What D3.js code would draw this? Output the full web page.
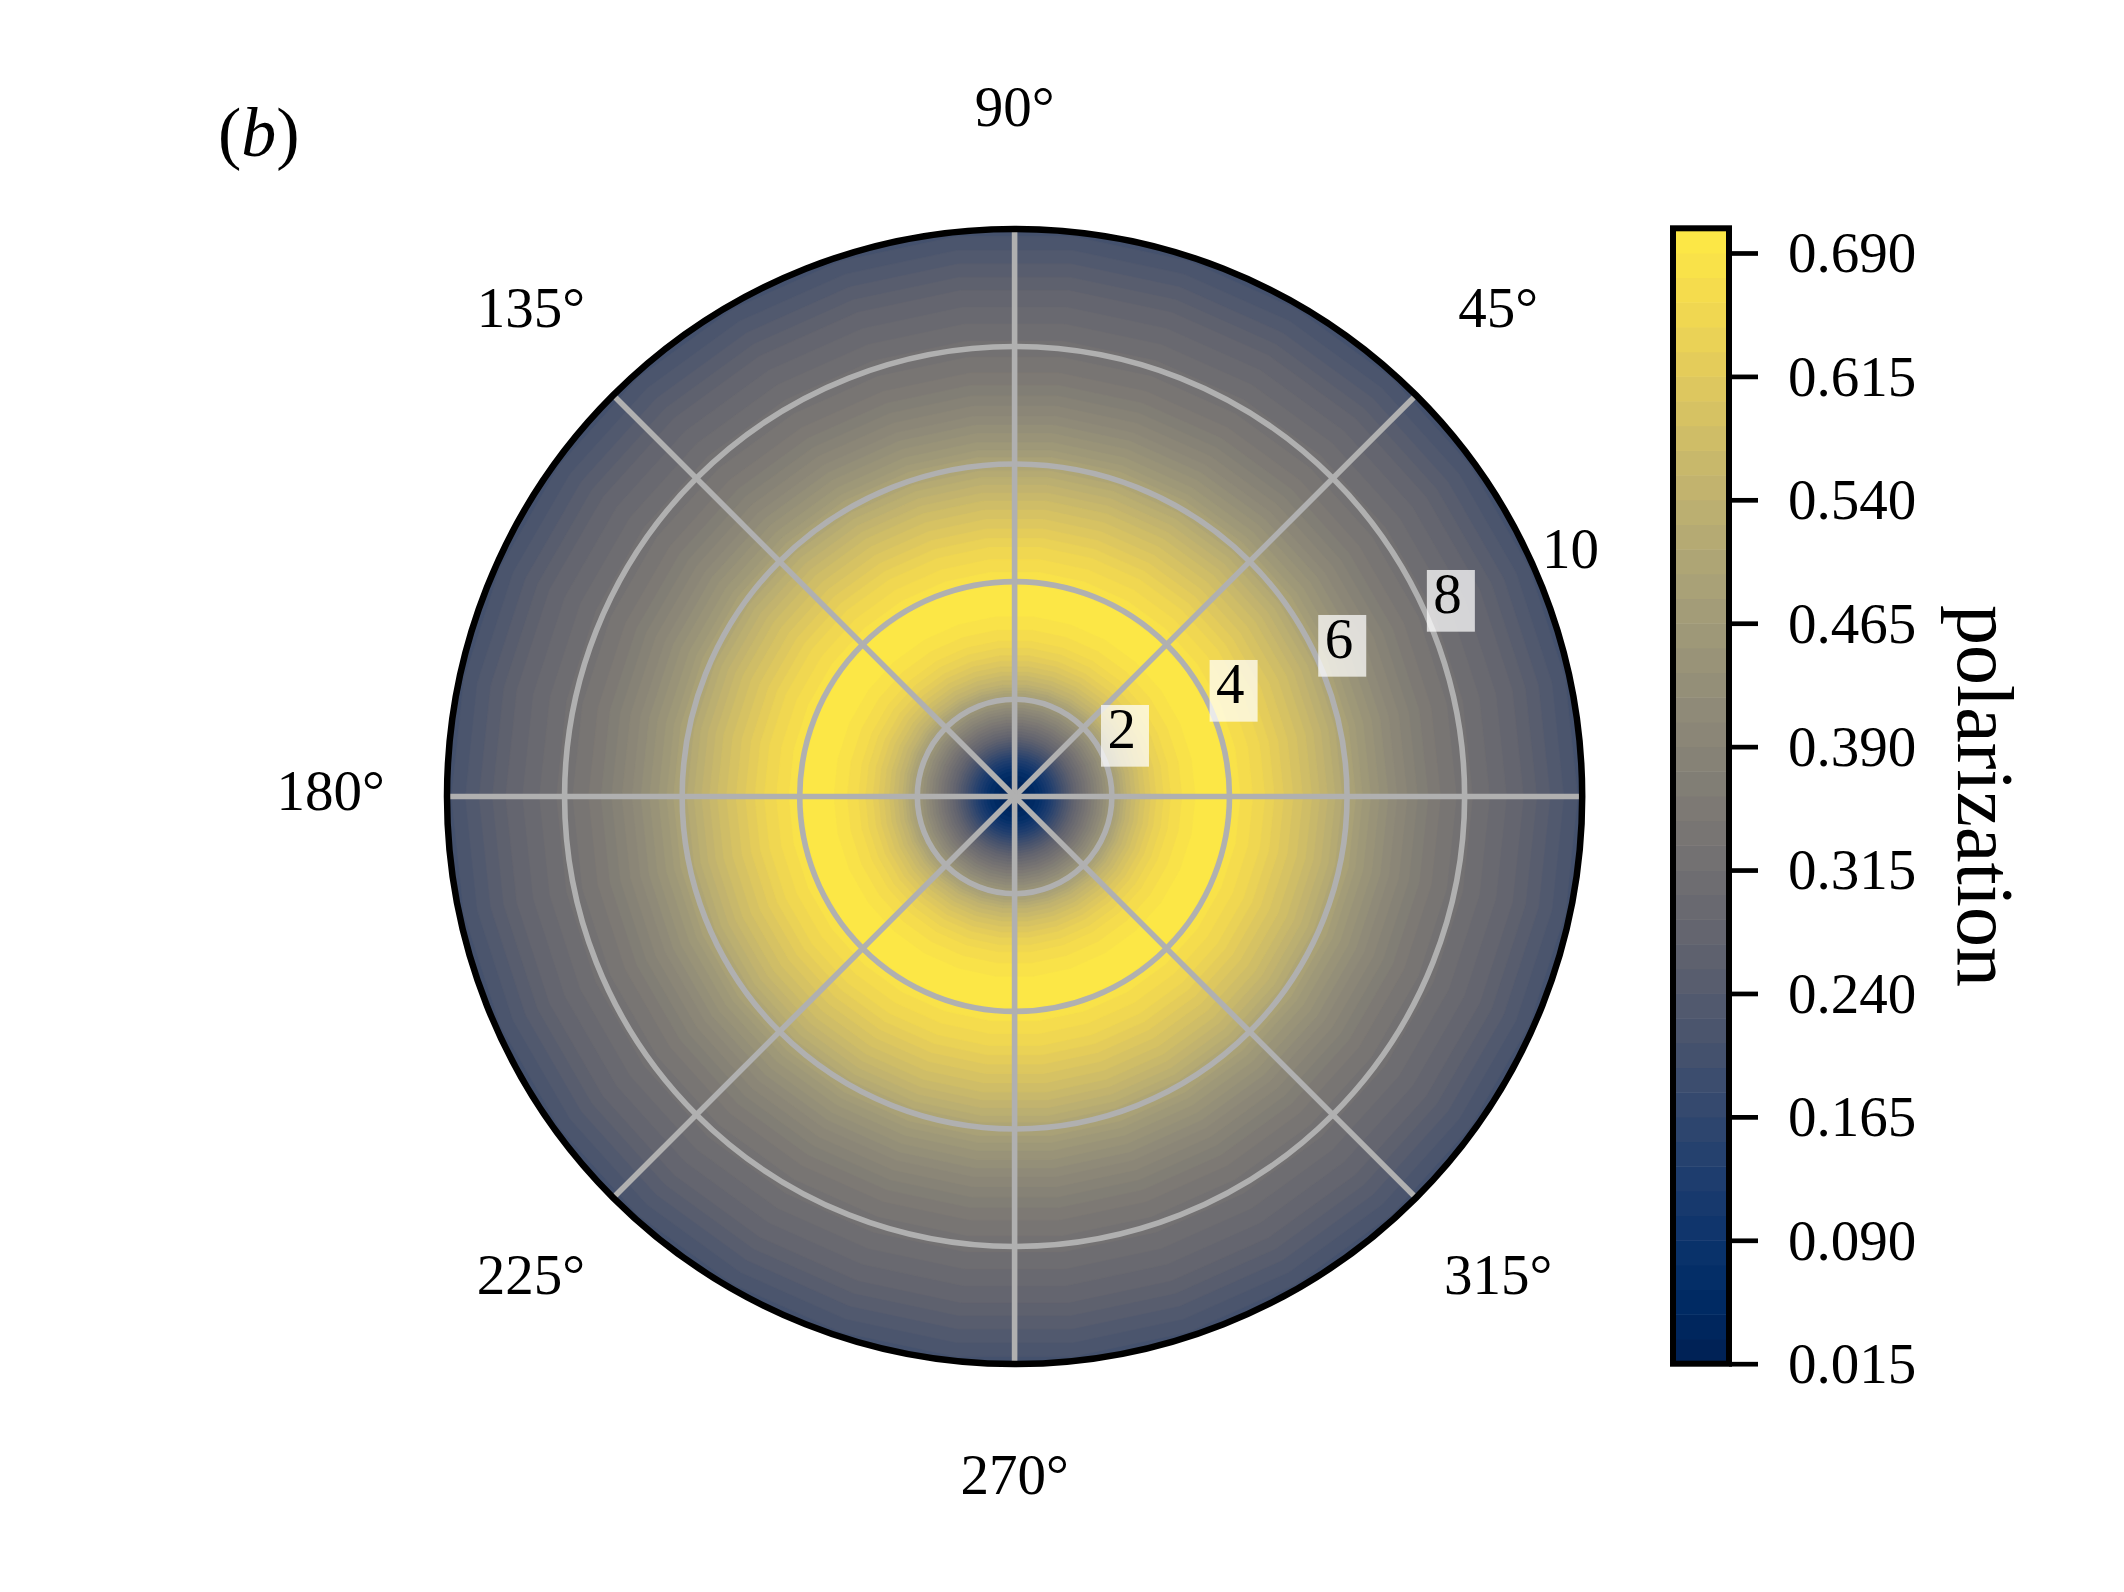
<!DOCTYPE html>
<html><head><meta charset="utf-8">
<script src="https://cdn.jsdelivr.net/npm/d3@7"></script>
<style>
body{margin:0;background:#fff}
svg{display:block}
text{font-family:"Liberation Serif","Times New Roman",serif;fill:#000}
</style>
</head><body>
<svg id="chart" width="2124" height="1592"></svg>
<script>
// ---- data ----
const radiusSamples = [0.345, 0.55, 0.75, 0.95, 1.15, 1.35, 1.55, 1.75, 2.0, 2.25, 2.5, 2.75, 3.0, 3.25, 3.5, 3.7, 3.95, 4.3, 4.6, 4.9, 5.4, 5.8, 6.3, 6.9, 7.5, 8.0, 8.5, 9.0, 9.5, 10.0];
const polarizationSamples = [0.016, 0.035, 0.07, 0.13, 0.20, 0.27, 0.33, 0.39, 0.465, 0.54, 0.59, 0.63, 0.66, 0.68, 0.695, 0.70, 0.69, 0.667, 0.645, 0.617, 0.57, 0.525, 0.46, 0.40, 0.35, 0.322, 0.296, 0.27, 0.237, 0.205];
const radialTicks = [2, 4, 6, 8, 10];
const angleTicks = [0, 45, 90, 135, 180, 225, 270, 315];
const angleLabels = ["", "45°", "90°", "135°", "180°", "225°", "270°", "315°"];
const levelMin = 0.015, levelStep = 0.015, levelCount = 46;
const colorbarTicks = [0.015, 0.090, 0.165, 0.240, 0.315, 0.390, 0.465, 0.540, 0.615, 0.690];
const colorbarTickLabels = ["0.015", "0.090", "0.165", "0.240", "0.315", "0.390", "0.465", "0.540", "0.615", "0.690"];
const colorbarTitle = "polarization";
const panelLabel = ["(", "b", ")"];

// ---- layout ----
const svg = d3.select("#chart");
const cx = 1014.6, cy = 796.5, R = 567.6;
const rMin = radiusSamples[0], rMax = 10;
const levels = d3.range(levelCount + 1).map(i => levelMin + i * levelStep);
const vMin = levels[0], vMax = levels[levels.length - 1];
const rScale = d3.scaleLinear().domain([rMin, rMax]).range([0, R]);
const profile = d3.scaleLinear().domain(radiusSamples).range(polarizationSamples).clamp(true);
const colorOf = band => d3.interpolateCividis(((levels[band] + levels[band + 1]) / 2 - vMin) / (vMax - vMin));
const bandOf = v => Math.max(0, Math.min(levelCount - 1, Math.floor((v - vMin) / levelStep)));

// ---- filled contour bands (radially symmetric) ----
const steps = 3000;
const segs = [];
let prev = null;
for (let i = 0; i <= steps; i++) {
  const r = rMin + (rMax - rMin) * i / steps;
  const b = bandOf(profile(r));
  if (!prev || prev.band !== b) {
    if (prev) prev.r1 = r;
    prev = {band: b, r0: r, r1: rMax};
    segs.push(prev);
  }
}
const g = svg.append("g").attr("transform", `translate(${cx},${cy})`);
const nTheta = 30;
const thetaNodes = d3.range(nTheta).map(k => k * 2 * Math.PI / nTheta);
const poly = d3.lineRadial().angle(t => Math.PI / 2 - t).curve(d3.curveLinearClosed);
g.append("circle").attr("r", R).attr("fill", colorOf(segs[segs.length - 1].band));
for (let i = segs.length - 2; i >= 0; i--) {
  const rr = rScale(segs[i].r1);
  g.append("path")
    .attr("d", poly.radius(rr)(thetaNodes))
    .attr("fill", colorOf(segs[i].band))
    .attr("stroke", colorOf(segs[i].band)).attr("stroke-width", 0.6);
}

// ---- grid ----
const gridColor = "#b0b0b0", gridW = 5.6;
g.selectAll("circle.ring").data(radialTicks.filter(t => t < rMax)).join("circle")
  .attr("class", "ring").attr("r", d => rScale(d))
  .attr("fill", "none").attr("stroke", gridColor).attr("stroke-width", gridW);
g.selectAll("line.spoke").data(angleTicks).join("line")
  .attr("class", "spoke")
  .attr("x1", 0).attr("y1", 0)
  .attr("x2", d => R * Math.cos(d * Math.PI / 180))
  .attr("y2", d => -R * Math.sin(d * Math.PI / 180))
  .attr("stroke", gridColor).attr("stroke-width", gridW);

// ---- radial tick labels ----
const labAng = 22.5 * Math.PI / 180;
const tickFont = 57;
radialTicks.forEach(t => {
  const ax = rScale(t) * Math.cos(labAng), ay = -rScale(t) * Math.sin(labAng);
  const lg = g.append("g");
  const rect = lg.append("rect").attr("fill", "#fff").attr("fill-opacity", t < rMax ? 0.72 : 0);
  const tx = lg.append("text").attr("x", ax + 3).attr("y", ay - 11)
    .attr("font-size", tickFont).text(String(t));
  const w = tx.node().getComputedTextLength();
  rect.attr("x", ax - 3.5).attr("y", ay - 54.3).attr("width", w + 19.5).attr("height", 61.7);
});

// ---- spine ----
g.append("circle").attr("r", R).attr("fill", "none").attr("stroke", "#000").attr("stroke-width", 6.5);

// ---- angular labels ----
const labR = 684;
angleTicks.forEach((a, i) => {
  if (!angleLabels[i]) return;
  const t = a * Math.PI / 180;
  g.append("text")
    .attr("x", labR * Math.cos(t)).attr("y", -labR * Math.sin(t) - 5)
    .attr("dy", "0.33em").attr("text-anchor", "middle")
    .attr("font-size", tickFont).text(angleLabels[i]);
});

// ---- colorbar ----
const cbX0 = 1673, cbX1 = 1729, cbTop = 228.3, cbBot = 1363.7;
const cbScale = d3.scaleLinear().domain([vMin, vMax]).range([cbBot, cbTop]);
const cb = svg.append("g");
cb.selectAll("rect.band").data(d3.range(levelCount)).join("rect")
  .attr("class", "band")
  .attr("x", cbX0).attr("width", cbX1 - cbX0)
  .attr("y", d => cbScale(levels[d + 1]))
  .attr("height", d => cbScale(levels[d]) - cbScale(levels[d + 1]) + 0.5)
  .attr("fill", d => colorOf(d));
cb.append("rect").attr("x", cbX0).attr("y", cbTop).attr("width", cbX1 - cbX0).attr("height", cbBot - cbTop)
  .attr("fill", "none").attr("stroke", "#000").attr("stroke-width", 6);
const axis = d3.axisRight(cbScale).tickValues(colorbarTicks)
  .tickFormat((d, i) => colorbarTickLabels[i]).tickSize(29).tickPadding(30);
const ax = cb.append("g").attr("transform", `translate(${cbX1},0)`).call(axis);
ax.select(".domain").remove();
ax.selectAll(".tick line").attr("stroke", "#000").attr("stroke-width", 4.7);
ax.selectAll(".tick text").attr("font-size", tickFont)
  .attr("font-family", '"Liberation Serif", serif').attr("fill", "#000").attr("dy", "0.33em");
svg.append("text")
  .attr("transform", "translate(1958,796) rotate(90)")
  .attr("text-anchor", "middle").attr("font-size", 80).text(colorbarTitle);

// ---- panel label ----
const pl = svg.append("text").attr("x", 218).attr("y", 156).attr("font-size", 70);
pl.append("tspan").text(panelLabel[0]);
pl.append("tspan").attr("font-style", "italic").text(panelLabel[1]);
pl.append("tspan").text(panelLabel[2]);
</script>
</body></html>
